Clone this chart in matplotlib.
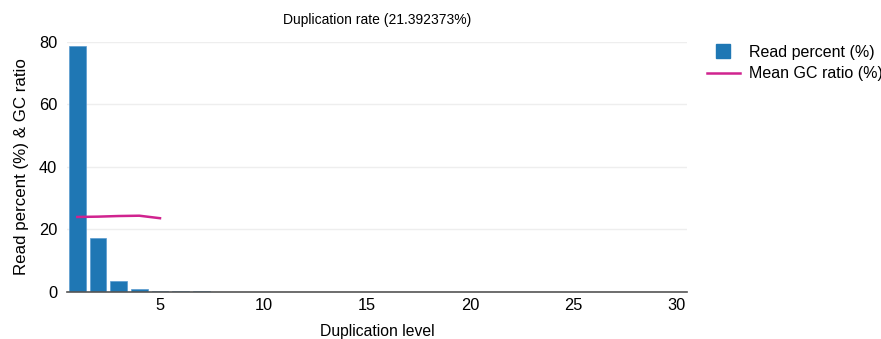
import matplotlib.pyplot as plt
from matplotlib.lines import Line2D
import numpy as np

plt.rcParams['font.family'] = ['Liberation Sans', 'DejaVu Sans']

# duplication level -> percent of reads
dup_level = np.arange(1, 31)
read_percent = [78.6, 17.3, 3.6, 0.9, 0.3, 0.25, 0.2, 0.08, 0.05, 0.04,
                0.03, 0.02, 0.02, 0.01, 0.01, 0.01, 0.01, 0.01, 0.01, 0.01,
                0.01, 0.01, 0.01, 0.01, 0.01, 0.01, 0.01, 0.01, 0.01, 0.01]
gc_level = [1, 2, 3, 4, 5]
gc_ratio = [24.0, 24.1, 24.3, 24.4, 23.6]
dup_rate = 21.392373

bar_color = '#1f77b4'
gc_color = '#d0238f'

fig = plt.figure(figsize=(8.81, 3.39), dpi=100)
ax = fig.add_axes([0.076, 0.1386, 0.704, 0.738])

ax.bar(dup_level, read_percent, width=0.8, color=bar_color,
       edgecolor='#5a9bd0', linewidth=0.5, zorder=2)
ax.plot(gc_level, gc_ratio, color=gc_color, linewidth=1.8, zorder=3)

ax.set_xlim(0.5, 30.5)
ax.set_ylim(0, 80)
ax.set_xticks([5, 10, 15, 20, 25, 30])
ax.set_yticks([0, 20, 40, 60, 80])
ax.yaxis.grid(True, color='#eeeeee', linewidth=1)
ax.set_axisbelow(True)
for s in ['top', 'right', 'left']:
    ax.spines[s].set_visible(False)
ax.spines['bottom'].set_color('#555555')
ax.spines['bottom'].set_linewidth(1.2)
ax.tick_params(axis='both', length=0, labelsize=11.8, pad=4)
ax.tick_params(axis='y', pad=7)

ax.set_title('Duplication rate (%.6f%%)' % dup_rate, fontsize=10, pad=13)
ax.set_xlabel('Duplication level', fontsize=11.3, labelpad=8)
ax.set_ylabel('Read percent (%) & GC ratio', fontsize=12.2, labelpad=7)

handles = [
    Line2D([], [], linestyle='none', marker='s', markersize=10,
           color=bar_color),
    Line2D([], [], color=gc_color, linewidth=1.8),
]
ax.legend(handles, ['Read percent (%)', 'Mean GC ratio (%)'],
          loc='upper left', bbox_to_anchor=(1.008, 1.045), frameon=False,
          fontsize=11.5, handlelength=2.1, handletextpad=0.55,
          labelspacing=0.4)

fig.savefig('out.png', dpi=100)
